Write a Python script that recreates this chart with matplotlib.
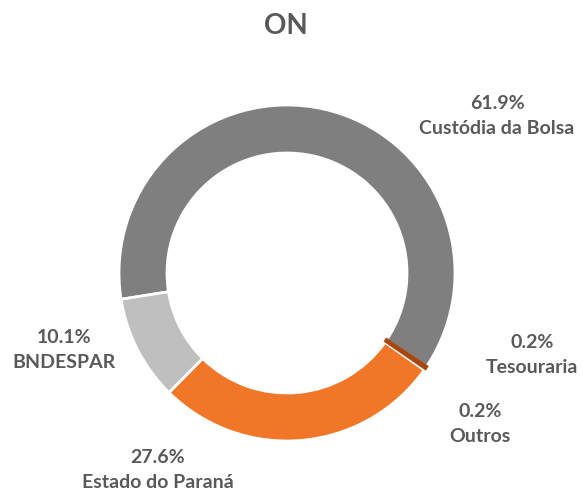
import matplotlib.pyplot as plt

# Share structure, in clockwise order from the left of the ring
labels = ["Custódia da Bolsa", "Tesouraria", "Outros", "Estado do Paraná", "BNDESPAR"]
values = [61.9, 0.2, 0.2, 27.6, 10.1]
colors = ["#7F7F7F", "#A5480F", "#FFFFFF", "#F27627", "#BFBFBF"]
title = "ON"

W, H = 583, 496
fig = plt.figure(figsize=(W / 100, H / 100), dpi=100)
ax = fig.add_axes([0, 0, 1, 1])

wedges, _ = ax.pie(values, colors=colors, startangle=189, counterclock=False,
                   center=(287, H - 273), radius=168, frame=True,
                   wedgeprops=dict(width=48, edgecolor="white", linewidth=2))
# the tiny brown slice gets its own edge so it stays visible
wedges[1].set_edgecolor(colors[1])
wedges[1].set_linewidth(2.4)
wedges[1].set_zorder(3)

ax.set_xlim(0, W)
ax.set_ylim(0, H)
ax.axis("off")

txt = "#595959"
ax.text(286, H - 26, title, fontsize=20, fontweight="bold", color=txt,
        family=["Lato", "DejaVu Sans"], ha="center", va="center")

# label centres (pixel coords from the top-left)
label_pos = [(497, 116), (532, 355), (480, 424), (158, 470), (64, 350)]
for lab, val, (x, y) in zip(labels, values, label_pos):
    ax.text(x, H - y, f"{val:.1f}%\n{lab}", fontsize=14, fontweight="bold",
            color=txt, family=["Lato", "DejaVu Sans"], ha="center", va="center",
            linespacing=1.6)

fig.savefig("out.png", dpi=100)
